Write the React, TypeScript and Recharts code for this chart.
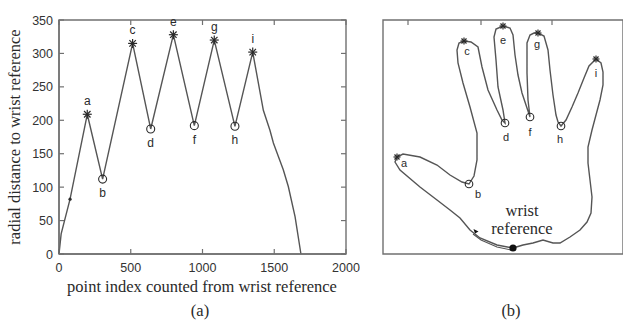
import React from 'react';
import { ComposedChart, Line, Scatter, XAxis, YAxis, ReferenceArea, ReferenceLine } from 'recharts';

// ---------- (a) radial distance profile ----------
const pointIndex = [0, 15, 77, 197, 304, 513, 639, 797, 943, 1082, 1226, 1350, 1424, 1470, 1494, 1530, 1563, 1598, 1645, 1686];
const radialDistance = [0, 30, 82, 209, 112, 315, 187, 328, 192, 320, 191, 302, 215, 185, 166, 145, 126, 101, 56, 0];

const peakLabels = ['a', 'c', 'e', 'g', 'i'];
const peakIndex = [197, 513, 797, 1082, 1350];
const peakDistance = [209, 315, 328, 320, 302];

const valleyLabels = ['b', 'd', 'f', 'h'];
const valleyIndex = [304, 639, 943, 1226];
const valleyDistance = [112, 187, 192, 191];

const dotIndex = [77];
const dotDistance = [82];

const xTicks = [0, 500, 1000, 1500, 2000];
const yTicks = [0, 50, 100, 150, 200, 250, 300, 350];

// ---------- (b) hand contour (image coordinates) ----------
const handX = [130, 114, 97, 87, 77, 67, 54, 37, 17, 12, 14, 20, 37, 54, 67, 79, 86, 91, 94, 94, 87, 80, 75, 74, 76, 81, 88, 95, 99, 105, 114, 119, 122, 120, 115, 113, 111, 113, 120, 127, 130, 132, 135, 139, 144, 147, 145, 144, 144, 147, 151, 155, 161, 165, 167, 170, 173, 175, 178, 183, 189, 195, 201, 206, 213, 218, 220, 220, 217, 213, 209, 205, 205, 207, 209, 208, 204, 197, 187, 177, 170, 160, 150, 140, 130];
const handY = [228, 225, 218, 210, 198, 190, 180, 167, 150, 142, 137, 134, 137, 145, 155, 162, 164, 156, 140, 113, 87, 63, 43, 30, 23, 21, 22, 27, 47, 70, 90, 100, 103, 90, 67, 40, 17, 9, 6, 8, 15, 35, 55, 73, 88, 97, 80, 53, 23, 15, 13, 13, 16, 30, 50, 75, 95, 102, 106, 100, 87, 73, 58, 46, 39, 43, 52, 65, 80, 95, 110, 127, 143, 160, 177, 193, 202, 210, 217, 223, 223, 220, 223, 225, 228];

const startX = [128, 114, 98, 90];
const startY = [230, 227, 220, 214];

const tipLabels = ['a', 'c', 'e', 'g', 'i'];
const tipX = [14, 81, 120, 155, 213];
const tipY = [137, 21, 6, 13, 39];

const gapLabels = ['b', 'd', 'f', 'h'];
const gapX = [86, 122, 147, 178];
const gapY = [164, 103, 97, 106];

const wristX = [130];
const wristY = [228];
const arrowX = [93];
const arrowY = [211];

const imageTicks = [25, 98, 169];

// label placement for the hand letters (dx, dy of text centre)
const handLabelOffset: Record<string, [number, number]> = {
  a: [7, 6], b: [9, 10], c: [3, 10], d: [1, 14], e: [0, 14],
  f: [0, 15], g: [-1, 11], h: [-1, 13], i: [0, 14],
};

const zip = (xs: number[], ys: number[], labels?: string[]) =>
  xs.map((x, i) => ({ x, y: ys[i], label: labels ? labels[i] : '' }));

const curve = zip(pointIndex, radialDistance);
const peaks = zip(peakIndex, peakDistance, peakLabels);
const valleys = zip(valleyIndex, valleyDistance, valleyLabels);
const dots = zip(dotIndex, dotDistance);

const contour = zip(handX, handY);
const startLine = zip(startX, startY);
const tips = zip(tipX, tipY, tipLabels);
const gaps = zip(gapX, gapY, gapLabels);
const wrist = zip(wristX, wristY);
const arrow = zip(arrowX, arrowY);

const INK = '#2a2a2a';
const LINE = '#555';
const BOX = '#707070';
const SANS = '"Liberation Sans", Arial, sans-serif';
const SERIF = '"Liberation Serif", "Times New Roman", serif';
const TICK_LEN = 5;

const starPath = (cx: number, cy: number, s: number) => {
  const d = s * 0.72;
  return (
    <g stroke={INK} strokeWidth={1.2}>
      <line x1={cx - s} y1={cy} x2={cx + s} y2={cy} />
      <line x1={cx} y1={cy - s} x2={cx} y2={cy + s} />
      <line x1={cx - d} y1={cy - d} x2={cx + d} y2={cy + d} />
      <line x1={cx - d} y1={cy + d} x2={cx + d} y2={cy - d} />
    </g>
  );
};

const Letter = ({ x, y, size, children }: any) => (
  <text x={x} y={y} textAnchor="middle" fontFamily={SANS} fontSize={size} fill={INK} stroke="none">
    {children}
  </text>
);

const PeakShape = (p: any) => (
  <g>
    {starPath(p.cx, p.cy, 4.5)}
    <Letter x={p.cx} y={p.cy - 9} size={12}>{p.payload.label}</Letter>
  </g>
);

const ValleyShape = (p: any) => (
  <g>
    <circle cx={p.cx} cy={p.cy} r={4} fill="none" stroke={INK} strokeWidth={1.1} />
    <Letter x={p.cx} y={p.cy + 18} size={12}>{p.payload.label}</Letter>
  </g>
);

const SmallDot = (p: any) => <circle cx={p.cx} cy={p.cy} r={1.6} fill={INK} />;

const HandLabel = ({ cx, cy, label }: { cx: number; cy: number; label: string }) => {
  const off = handLabelOffset[label] || [0, 12];
  return <Letter x={cx + off[0]} y={cy + off[1] + 4} size={11}>{label}</Letter>;
};

const TipShape = (p: any) => (
  <g>
    {starPath(p.cx, p.cy, 3.5)}
    <HandLabel cx={p.cx} cy={p.cy} label={p.payload.label} />
  </g>
);

const GapShape = (p: any) => (
  <g>
    <circle cx={p.cx} cy={p.cy} r={3.8} fill="none" stroke={INK} strokeWidth={1.1} />
    <HandLabel cx={p.cx} cy={p.cy} label={p.payload.label} />
  </g>
);

const WristShape = (p: any) => <circle cx={p.cx} cy={p.cy} r={3.6} fill="#111" />;
const ArrowShape = (p: any) => (
  <path d={`M${p.cx - 2.5},${p.cy - 2} L${p.cx + 2.5},${p.cy + 0.5} L${p.cx - 1},${p.cy + 2.5} Z`} fill="#111" />
);

// ---- tick labels ----
const BOTTOM_M = 8;
const LEFT_M = 6;

const BottomTickLabel = (p: any) => (
  <text x={p.x} y={p.y + 9.5} textAnchor="middle" fontFamily={SANS} fontSize={12.5} fill="#333">
    {p.payload.value}
  </text>
);

const LeftTickLabel = (p: any) => (
  <text x={p.x} y={p.y + 4.5} textAnchor="end" fontFamily={SANS} fontSize={12.5} fill="#333">
    {p.payload.value}
  </text>
);

// ---- inward tick marks drawn at the ends of reference lines ----
const VTicks = (both: boolean) => (p: any) => {
  const top = Math.min(p.y1, p.y2);
  const bottom = Math.max(p.y1, p.y2);
  const x = p.x1;
  return (
    <g stroke={BOX} strokeWidth={1.2}>
      <line x1={x} x2={x} y1={top} y2={top + TICK_LEN} />
      {both && <line x1={x} x2={x} y1={bottom} y2={bottom - TICK_LEN} />}
    </g>
  );
};

const HTicks = (p: any) => {
  const left = Math.min(p.x1, p.x2);
  const right = Math.max(p.x1, p.x2);
  const y = p.y1;
  return (
    <g stroke={BOX} strokeWidth={1.2}>
      <line x1={left} x2={left + TICK_LEN} y1={y} y2={y} />
      <line x1={right} x2={right - TICK_LEN} y1={y} y2={y} />
    </g>
  );
};

const vTicksBoth = VTicks(true);
const vTicksTop = VTicks(false);

export default function App() {
  return (
    <div style={{ position: 'absolute', left: 0, top: 0, width: 623, height: 321, background: '#fff', overflow: 'hidden' }}>
      {/* (a) */}
      <div style={{ position: 'absolute', left: 0, top: 0 }}>
        <ComposedChart width={360} height={321} margin={{ top: 20, right: 14, bottom: 37, left: 0 }}>
          <XAxis
            dataKey="x"
            type="number"
            domain={[0, 2000]}
            ticks={xTicks}
            interval={0}
            height={30}
            tickSize={0}
            tickMargin={BOTTOM_M}
            axisLine={{ stroke: BOX, strokeWidth: 1.4 }}
            tickLine={false}
            tick={BottomTickLabel}
          />
          <YAxis
            dataKey="y"
            type="number"
            domain={[0, 350]}
            ticks={yTicks}
            interval={0}
            width={59}
            tickSize={0}
            tickMargin={LEFT_M}
            axisLine={{ stroke: BOX, strokeWidth: 1.4 }}
            tickLine={false}
            tick={LeftTickLabel}
          />
          {xTicks.map((v) => (
            <ReferenceLine key={`xt${v}`} x={v} ifOverflow="visible" shape={vTicksBoth} />
          ))}
          {yTicks.map((v) => (
            <ReferenceLine key={`yt${v}`} y={v} ifOverflow="visible" shape={HTicks} />
          ))}
          <ReferenceArea x1={0} x2={2000} y1={0} y2={350} fill="none" stroke={BOX} strokeWidth={1.4} ifOverflow="visible" />
          <Line data={curve} dataKey="y" stroke={LINE} strokeWidth={1.4} dot={false} isAnimationActive={false} />
          <Scatter data={dots} dataKey="y" shape={SmallDot} isAnimationActive={false} />
          <Scatter data={peaks} dataKey="y" shape={PeakShape} isAnimationActive={false} />
          <Scatter data={valleys} dataKey="y" shape={ValleyShape} isAnimationActive={false} />
        </ComposedChart>
      </div>

      {/* (b) */}
      <div style={{ position: 'absolute', left: 373, top: 0 }}>
        <ComposedChart width={250} height={321} margin={{ top: 20, right: 0, bottom: 67, left: 10 }}>
          <XAxis dataKey="x" type="number" domain={[0, 240]} height={0} tick={false} tickLine={false} axisLine={false} />
          <YAxis dataKey="y" type="number" domain={[0, 234]} reversed width={0} tick={false} tickLine={false} axisLine={false} />
          {imageTicks.map((v) => (
            <ReferenceLine key={`it${v}`} x={v} ifOverflow="visible" shape={vTicksTop} />
          ))}
          <ReferenceArea x1={0} x2={240} y1={0} y2={234} fill="none" stroke={BOX} strokeWidth={1.4} ifOverflow="visible" />
          <Line data={contour} dataKey="y" stroke={LINE} strokeWidth={1.4} dot={false} isAnimationActive={false} />
          <Line data={startLine} dataKey="y" stroke={LINE} strokeWidth={1.1} dot={false} isAnimationActive={false} />
          <Scatter data={arrow} dataKey="y" shape={ArrowShape} isAnimationActive={false} />
          <Scatter data={wrist} dataKey="y" shape={WristShape} isAnimationActive={false} />
          <Scatter data={tips} dataKey="y" shape={TipShape} isAnimationActive={false} />
          <Scatter data={gaps} dataKey="y" shape={GapShape} isAnimationActive={false} />
        </ComposedChart>
      </div>

      {/* titles and captions */}
      <svg width={623} height={321} style={{ position: 'absolute', left: 0, top: 0, pointerEvents: 'none' }}>
        <text x={20} y={137} transform="rotate(-90 20 137)" textAnchor="middle" fontFamily={SERIF} fontSize={16.5} fill={INK}>
          radial distance to wrist reference
        </text>
        <text x={202} y={292} textAnchor="middle" fontFamily={SERIF} fontSize={16.5} fill={INK}>
          point index counted from wrist reference
        </text>
        <text x={200} y={316} textAnchor="middle" fontFamily={SERIF} fontSize={16.5} fill={INK}>
          (a)
        </text>
        <text x={511} y={316} textAnchor="middle" fontFamily={SERIF} fontSize={16.5} fill={INK}>
          (b)
        </text>
        <text x={522} y={216} textAnchor="middle" fontFamily={SERIF} fontSize={16.5} fill={INK}>
          wrist
        </text>
        <text x={522} y={234} textAnchor="middle" fontFamily={SERIF} fontSize={16.5} fill={INK}>
          reference
        </text>
      </svg>
    </div>
  );
}
